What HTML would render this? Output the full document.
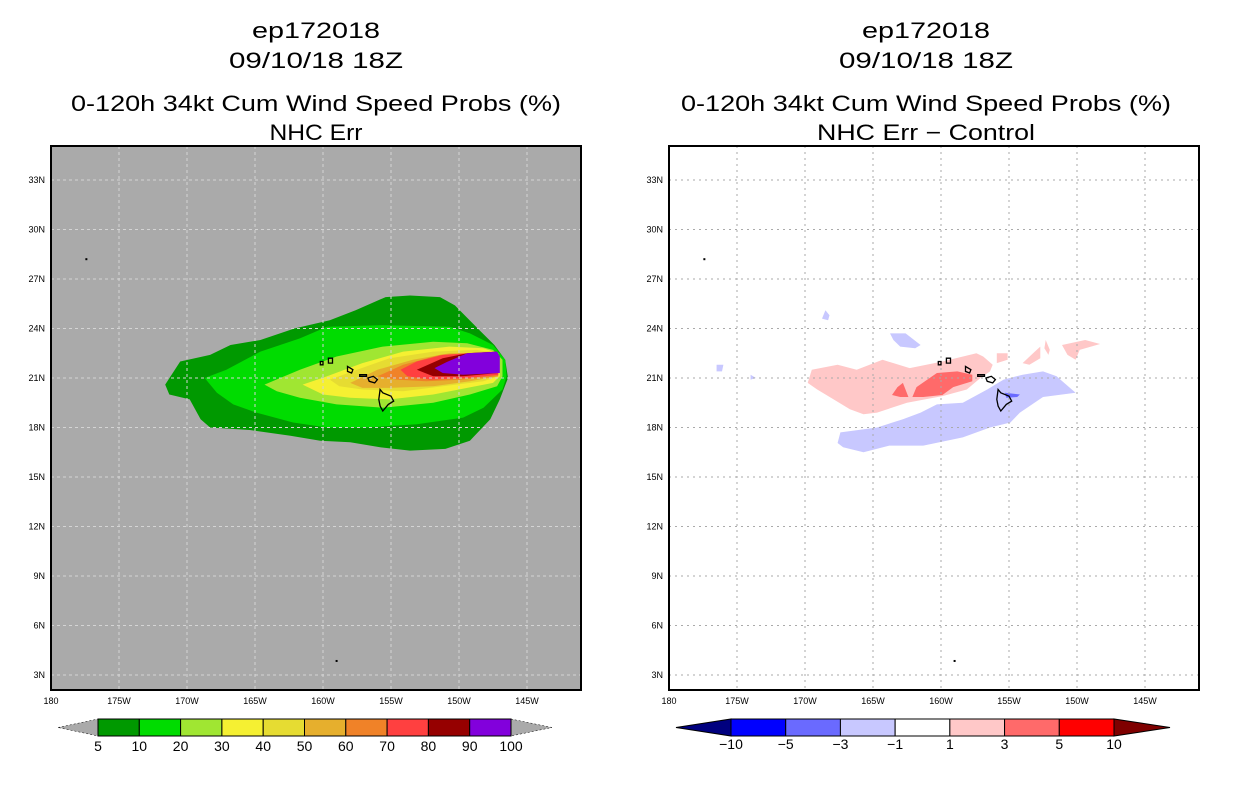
<!DOCTYPE html>
<html><head><meta charset="utf-8">
<style>
body{margin:0;background:#fff;width:1236px;height:800px;overflow:hidden;font-family:"Liberation Sans",sans-serif}
svg text{font-family:"Liberation Sans",sans-serif}
</style></head>
<body>
<svg id="s" width="1236" height="800" viewBox="0 0 1236 800" xmlns="http://www.w3.org/2000/svg"></svg>
<script>
// ---- data (lon = degrees West, lat = degrees North) ----
const lonTicks=[180,175,170,165,160,155,150,145];
const lonLabels=["180","175W","170W","165W","160W","155W","150W","145W"];
const latTicks=[3,6,9,12,15,18,21,24,27,30,33];
const latLabels=["3N","6N","9N","12N","15N","18N","21N","24N","27N","30N","33N"];
const probLevels=["5","10","20","30","40","50","60","70","80","90","100"];
const probColors=["#009900","#00dc00","#a0e632","#f5f032","#e6dc32","#e6af2d","#f08228","#ff4040","#960000","#8200dc"];
const diffLevels=["-10","-5","-3","-1","1","3","5","10"];
const diffColors=["#00007f","#0000ff","#6a6aff","#c8c8ff","#ffffff","#ffc8c8","#ff6a6a","#ff0000","#7f0000"];
const p5=[[171.6,20.6],[170.5,22.0],[168.3,22.4],[166.8,23.0],[164.6,23.3],[162.1,24.0],[159.5,24.5],[157.6,25.1],[155.4,25.9],[153.6,26.0],[151.4,25.9],[150.3,25.4],[148.5,23.9],[147.4,23.0],[146.6,22.1],[146.4,21.0],[147.0,19.7],[147.7,18.5],[149.2,17.2],[151.0,16.7],[153.6,16.6],[155.8,16.8],[158.0,17.1],[160.2,17.2],[162.4,17.5],[165.4,17.85],[168.3,18.0],[169.0,18.5],[169.8,19.7],[171.3,20.0]];
const p10=[[168.7,21.0],[167.1,21.5],[164.6,22.6],[161.7,23.4],[159.7,24.1],[155.6,24.2],[150.7,24.1],[149.2,23.7],[147.5,23.0],[146.6,22.1],[146.5,21.1],[146.8,20.3],[148.2,19.2],[149.7,18.6],[153.1,18.2],[156.8,18.0],[159.7,18.0],[162.2,18.3],[164.9,18.9],[166.6,19.4],[167.8,20.1]];
const p20=[[164.3,20.6],[161.7,21.5],[159.0,22.3],[155.6,22.9],[151.9,23.2],[149.4,23.1],[147.5,22.7],[146.8,22.1],[146.8,21.1],[147.2,20.5],[149.2,20.0],[151.9,19.5],[155.6,19.2],[159.0,19.4],[161.7,19.8],[163.4,20.2]];
const p30=[[161.5,20.6],[159.7,21.1],[157.1,21.9],[154.1,22.6],[150.7,22.9],[148.2,22.8],[147.1,22.5],[147.0,21.1],[147.5,20.7],[149.4,20.4],[151.9,20.0],[155.1,19.7],[158.0,19.8],[160.0,20.0]];
const p40=[[159.5,20.9],[157.5,21.5],[155.1,22.2],[151.9,22.6],[148.7,22.7],[147.2,22.5],[147.1,21.1],[148.2,20.8],[151.2,20.5],[154.1,20.2],[157.1,20.3],[158.8,20.5]];
const p50=[[158.0,20.7],[156.0,21.5],[153.4,22.1],[150.7,22.5],[147.5,22.5],[147.1,21.1],[149.2,20.8],[151.9,20.5],[155.1,20.4],[157.1,20.4]];
const p60=[[156.0,21.1],[154.1,21.8],[151.4,22.4],[147.7,22.6],[147.1,21.1],[149.7,20.9],[152.4,20.8],[154.6,20.9]];
const p70=[[154.3,21.5],[153.1,22.0],[151.2,22.4],[147.2,22.6],[147.1,21.2],[149.4,21.0],[152.1,20.9],[153.8,21.1]];
const p80=[[153.1,21.5],[151.2,22.2],[149.4,22.5],[147.2,22.6],[147.1,21.3],[149.7,21.1],[151.9,21.1]];
const p90=[[151.8,21.6],[150.9,21.97],[149.4,22.5],[147.2,22.6],[147.0,22.3],[147.0,21.3],[149.7,21.2],[151.2,21.3]];
const dRed1=[[169.8,20.7],[169.5,21.5],[167.6,21.8],[166.2,21.5],[164.3,22.1],[162.3,21.6],[159.9,22.0],[157.4,22.5],[156.9,22.3],[156.2,21.8],[156.4,21.4],[157.1,21.0],[158.1,20.3],[159.9,19.9],[162.5,19.5],[164.7,18.9],[165.7,18.8],[166.7,19.1],[167.9,19.7],[169.1,20.3]];
const dRed1b=[[155.9,22.5],[155.1,22.5],[155.1,22.1],[155.9,21.9]];
const dRed1c=[[154.0,21.9],[153.1,22.6],[152.7,22.9],[152.7,22.2],[153.5,21.8]];
const dRed1d=[[151.1,23.0],[149.4,23.3],[148.3,23.06],[149.8,22.7],[150.1,22.1],[150.7,22.4]];
const dRed1e=[[152.3,23.3],[152.0,22.7],[152.1,22.4],[152.4,22.8]];
const dRed3a=[[163.6,19.97],[163.2,20.45],[162.8,20.7],[162.4,19.85],[163.0,19.85]];
const dRed3b=[[162.1,19.85],[161.8,20.45],[160.3,21.3],[158.8,21.4],[157.7,21.2],[157.7,20.8],[159.1,20.45],[159.9,19.97],[161.3,19.85]];
const dBlue1=[[167.6,17.06],[167.4,17.7],[164.7,18.0],[162.8,18.5],[161.5,18.9],[160.3,19.4],[158.4,19.5],[156.6,20.3],[155.4,20.9],[154.0,21.2],[152.5,21.4],[151.5,21.1],[150.1,20.1],[152.5,19.85],[154.2,18.9],[154.9,18.3],[156.4,18.0],[158.4,17.4],[161.3,16.9],[163.8,16.9],[165.7,16.5],[167.2,16.8]];
const dBlue1b=[[168.5,25.1],[168.2,24.8],[168.3,24.5],[168.75,24.6]];
const dBlue1c=[[176.5,21.8],[176.0,21.8],[176.1,21.4],[176.5,21.4]];
const dBlue1d=[[174.0,21.2],[173.6,21.0],[174.0,20.9]];
const dBlue1e=[[163.75,23.7],[162.6,23.7],[161.5,23.0],[161.9,22.8],[163.0,22.9],[163.5,23.3]];
const dBlue3=[[155.3,20.1],[154.2,20.0],[154.4,19.85],[155.2,19.8]];
const islBig=[[155.8,20.3],[155.6,20.1],[155.0,19.9],[154.8,19.6],[155.2,19.4],[155.6,19.0],[155.8,19.3],[155.9,19.7]];
const islMaui=[[156.7,21.0],[156.3,21.1],[156.0,20.9],[156.2,20.7],[156.6,20.8]];
const islMolo=[[157.3,21.2],[156.8,21.2],[156.8,21.1],[157.3,21.1]];
const islOahu=[[158.2,21.7],[157.8,21.5],[157.9,21.3],[158.2,21.4]];
const islKauai=[[159.6,22.2],[159.3,22.2],[159.3,21.9],[159.6,21.9]];
const islNiihau=[[160.2,22.0],[160.0,22.0],[160.0,21.8],[160.2,21.8]];
const dots=[[177.4,28.2],[159.0,3.85]];

// ---- axes ----
const S=document.getElementById('s');
const NS='http://www.w3.org/2000/svg';
const MAP_W=530,MAP_T=146,MAP_H=544;
function xs(ox,lon){return ox+(180-lon)*13.6;}
function ys(lat){return MAP_T+(35.06-lat)*16.5;}
function el(tag,attrs,parent){const e=document.createElementNS(NS,tag);for(const k in attrs)e.setAttribute(k,attrs[k]);(parent||S).appendChild(e);return e;}
function poly(ox,pts,fill,name,g){const d=pts.map(p=>xs(ox,p[0]).toFixed(1)+','+ys(p[1]).toFixed(1)).join(' ');
 const e=el('polygon',{points:d,fill:fill},g);
 
 
 return e;}
function txt(x,y,s,size,anchor,name,parent,len){const a={x:x,y:y,'font-size':size,'text-anchor':anchor||'middle',fill:'#000'};
 if(len){a.textLength=len;a.lengthAdjust='spacingAndGlyphs';}
 const t=el('text',a,parent);t.textContent=s;
 
 
 return t;}

function panel(ox,cx,bg,title4,t4len,fields,grid,gridDash,cbColors,cbLevels,cbKind){
 const g=el('g',{});
 
 
 txt(cx,38,'ep172018',22,'middle','storm-id-title',g,128);
 txt(cx,68,'09/10/18 18Z',22,'middle','date-title',g,174);
 txt(cx,111,'0-120h 34kt Cum Wind Speed Probs (%)',22,'middle','product-title',g,490);
 txt(cx,140,title4,22,'middle','panel-subtitle',g,t4len);
 const r=el('rect',{x:ox,y:MAP_T,width:MAP_W,height:MAP_H,fill:bg},g);
 
 
 fields.forEach(f=>poly(ox,f[0],f[1],f[2],g));
 lonTicks.slice(1).forEach(lon=>{const l=el('line',{x1:xs(ox,lon),x2:xs(ox,lon),y1:MAP_T,y2:MAP_T+MAP_H,stroke:grid,'stroke-width':1,'stroke-dasharray':gridDash},g);
  
  });
 latTicks.forEach(lat=>{const l=el('line',{x1:ox,x2:ox+MAP_W,y1:ys(lat),y2:ys(lat),stroke:grid,'stroke-width':1,'stroke-dasharray':gridDash},g);
  
  });
 [islBig,islMaui,islMolo,islOahu,islKauai,islNiihau].forEach(p=>{const e=poly(ox,p,'none','hawaii-island-outline',g);e.setAttribute('stroke','#000');e.setAttribute('stroke-width','1.3');});
 dots.forEach(d=>{const e=el('rect',{x:xs(ox,d[0])-1,y:ys(d[1])-1,width:2,height:2,fill:'#000'},g);
  
  });
 const fr=el('rect',{x:ox,y:MAP_T,width:MAP_W,height:MAP_H,fill:'none',stroke:'#000','stroke-width':2},g);
 
 
 lonTicks.forEach((lon,i)=>txt(xs(ox,lon),704,lonLabels[i],9,'middle','x-tick-label',g));
 latTicks.forEach((lat,i)=>txt(ox-6,ys(lat)+3,latLabels[i],9,'end','y-tick-label',g));
 const cb=el('g',{},g);
 
 
 const y0=719,h=17;
 if(cbKind==='prob'){
  const x0=98,w=(511-98)/probColors.length;
  const t1=el('polygon',{points:`58,${y0+h/2} ${x0},${y0} ${x0},${y0+h}`,fill:'#aaaaaa',stroke:'#000','stroke-width':0.5,'stroke-dasharray':'2,2'},cb);
  
  
  const t2=el('polygon',{points:`552,${y0+h/2} 511,${y0} 511,${y0+h}`,fill:'#aaaaaa',stroke:'#000','stroke-width':0.5,'stroke-dasharray':'2,2'},cb);
  
  
  cbColors.forEach((c,i)=>{const b=el('rect',{x:x0+i*w,y:y0,width:w,height:h,fill:c,stroke:'#000','stroke-width':1},cb);
   
   });
  cbLevels.forEach((s,i)=>txt(x0+i*w,751,s,14,'middle','colorbar-label',cb));
 } else {
  const x0=731,w=(1114-731)/7;
  const t1=el('polygon',{points:`676,${y0+h/2} ${x0},${y0} ${x0},${y0+h}`,fill:cbColors[0],stroke:'#000','stroke-width':1},cb);
  
  
  const t2=el('polygon',{points:`1170,${y0+h/2} 1114,${y0} 1114,${y0+h}`,fill:cbColors[8],stroke:'#000','stroke-width':1},cb);
  
  
  cbColors.slice(1,8).forEach((c,i)=>{const b=el('rect',{x:x0+i*w,y:y0,width:w,height:h,fill:c,stroke:'#000','stroke-width':1},cb);
   
   });
  cbLevels.forEach((s,i)=>txt(x0+i*w,749,s.replace('-','\u2212'),14,'middle','colorbar-label',cb));
 }
}
panel(51,316,'#aaaaaa','NHC Err',93,[
 [p5,probColors[0],'prob-5'],[p10,probColors[1],'prob-10'],[p20,probColors[2],'prob-20'],[p30,probColors[3],'prob-30'],
 [p40,probColors[4],'prob-40'],[p50,probColors[5],'prob-50'],[p60,probColors[6],'prob-60'],[p70,probColors[7],'prob-70'],
 [p80,probColors[8],'prob-80'],[p90,probColors[9],'prob-90']],'#d4d4d4','3,3',probColors,probLevels,'prob');
panel(669,926,'#ffffff','NHC Err \u2212 Control',218,[
 [dRed1,diffColors[5],'diff-pos-1'],[dRed1b,diffColors[5],'diff-pos-1'],[dRed1c,diffColors[5],'diff-pos-1'],[dRed1d,diffColors[5],'diff-pos-1'],[dRed1e,diffColors[5],'diff-pos-1'],
 [dRed3a,diffColors[6],'diff-pos-3'],[dRed3b,diffColors[6],'diff-pos-3'],
 [dBlue1,diffColors[3],'diff-neg-1'],[dBlue1b,diffColors[3],'diff-neg-1'],[dBlue1c,diffColors[3],'diff-neg-1'],[dBlue1d,diffColors[3],'diff-neg-1'],[dBlue1e,diffColors[3],'diff-neg-1'],
 [dBlue3,diffColors[2],'diff-neg-3']],'#aaaaaa','2,4',diffColors,diffLevels,'diff');
</script>
</body></html>
